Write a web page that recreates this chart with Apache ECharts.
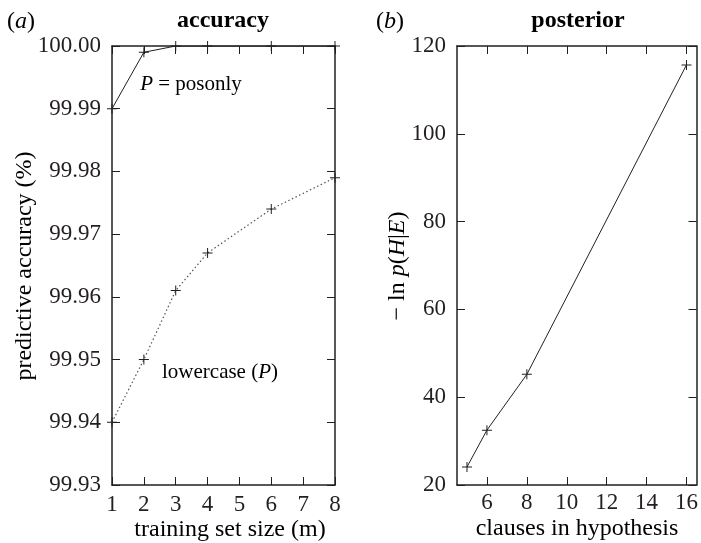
<!DOCTYPE html>
<html>
<head>
<meta charset="utf-8">
<script src="https://cdn.jsdelivr.net/npm/echarts@6/dist/echarts.min.js"></script>
<style>
  html, body { margin: 0; padding: 0; background: #fff; }
  #chart { width: 701px; height: 543px; }
</style>
</head>
<body>
<div id="chart"></div>
<script>
// (a) accuracy
const trainSizes = [1, 2, 3, 4, 6, 8];
const posonlyAcc = [99.990, 99.999, 100.000, 100.000, 100.000, 100.000];
const lowercaseAcc = [99.940, 99.950, 99.961, 99.967, 99.974, 99.979];

// (b) posterior
const clauses = [5, 6, 8, 16];
const negLogPost = [24.1, 32.5, 45.2, 115.7];
const clauseTicks = [6, 8, 10, 12, 14, 16];

const ink = '#231f20';
const serif = 'Liberation Serif';
const plus = 'path://M4.5,0H5.5V4.5H10V5.5H5.5V10H4.5V5.5H0V4.5H4.5Z';

const chart = echarts.init(document.getElementById('chart'));

function boxAxis(gridIndex, position, extra, showLabel) {
    return Object.assign({
        type: 'value',
        gridIndex: gridIndex,
        position: position,
        axisLine: { show: true, lineStyle: { color: ink, width: 1.5 } },
        axisTick: { show: true, inside: true, length: 8, lineStyle: { color: ink, width: 1 } },
        splitLine: { show: false },
        axisLabel: {
            show: showLabel,
            color: ink,
            fontFamily: serif,
            fontSize: 23
        }
    }, extra);
}

const rt = { fontFamily: serif, fontSize: 24, color: ink };
const it = { fontFamily: serif, fontSize: 24, color: ink, fontStyle: 'italic' };
const rs = { fontFamily: serif, fontSize: 21, color: ink };
const is = { fontFamily: serif, fontSize: 21, color: ink, fontStyle: 'italic' };

function txt(x, y, text, rich, rot) {
    return {
        type: 'text',
        x: x, y: y,
        rotation: rot || 0,
        style: { text: text, rich: rich, align: 'center', verticalAlign: 'middle' }
    };
}

const option = {
    animation: false,
    grid: [
        { left: 112, top: 46, width: 223, height: 439 },
        { left: 457, top: 46, width: 242, height: 439 }
    ],
    xAxis: [
        boxAxis(0, 'bottom', { min: 1, max: 8, interval: 1 }, true),
        boxAxis(0, 'top', { min: 1, max: 8, interval: 1 }, false),
        boxAxis(1, 'bottom', {
            min: 4.5, max: 16.5,
            axisTick: { show: true, inside: true, length: 8, lineStyle: { color: ink, width: 1 }, customValues: clauseTicks },
            axisLabel: { color: ink, fontFamily: serif, fontSize: 23, customValues: clauseTicks, margin: 6 }
        }, true),
        boxAxis(1, 'top', {
            min: 4.5, max: 16.5,
            axisTick: { show: true, inside: true, length: 8, lineStyle: { color: ink, width: 1 }, customValues: clauseTicks },
            axisLabel: { show: false }
        }, false)
    ],
    yAxis: [
        boxAxis(0, 'left', {
            min: 99.93, max: 100, interval: 0.01,
            axisLabel: { color: ink, fontFamily: serif, fontSize: 23, margin: 11, formatter: v => v.toFixed(2) }
        }, true),
        boxAxis(0, 'right', { min: 99.93, max: 100, interval: 0.01 }, false),
        boxAxis(1, 'left', {
            min: 20, max: 120, interval: 20,
            axisLabel: { color: ink, fontFamily: serif, fontSize: 23, margin: 11 }
        }, true),
        boxAxis(1, 'right', { min: 20, max: 120, interval: 20 }, false)
    ],
    series: [
        {
            type: 'line',
            xAxisIndex: 0, yAxisIndex: 0,
            data: trainSizes.map((x, i) => [x, posonlyAcc[i]]),
            symbol: plus, symbolSize: 10,
            itemStyle: { color: ink },
            lineStyle: { color: ink, width: 1 }
        },
        {
            type: 'line',
            xAxisIndex: 0, yAxisIndex: 0,
            data: trainSizes.map((x, i) => [x, lowercaseAcc[i]]),
            symbol: plus, symbolSize: 10,
            itemStyle: { color: ink },
            lineStyle: { color: '#555', width: 1.2, type: [1.5, 2.5] }
        },
        {
            type: 'line',
            xAxisIndex: 2, yAxisIndex: 2,
            data: clauses.map((x, i) => [x, negLogPost[i]]),
            symbol: plus, symbolSize: 10,
            itemStyle: { color: ink },
            lineStyle: { color: ink, width: 1 }
        }
    ],
    graphic: [
        txt(21, 22, '{n|(}{i|a}{n|)}', { n: rt, i: it }),
        txt(223, 21, '{b|accuracy}', { b: Object.assign({}, rt, { fontWeight: 'bold' }) }),
        txt(390, 22, '{n|(}{i|b}{n|)}', { n: rt, i: it }),
        txt(578, 21, '{b|posterior}', { b: Object.assign({}, rt, { fontWeight: 'bold' }) }),
        txt(191, 84, '{i|P}{n| = posonly}', { n: rs, i: is }),
        txt(220, 372, '{n|lowercase (}{i|P}{n|)}', { n: rs, i: is }),
        txt(230, 530, '{n|training set size (m)}', { n: rt }),
        txt(577, 529, '{n|clauses in hypothesis}', { n: rt }),
        txt(25, 266, '{n|predictive accuracy (%)}', { n: rt }, Math.PI / 2),
        txt(398, 266, '{n|− ln }{i|p}{n|(}{i|H}{n||}{i|E}{n|)}', { n: rt, i: it }, Math.PI / 2)
    ]
};

chart.setOption(option);
</script>
</body>
</html>
